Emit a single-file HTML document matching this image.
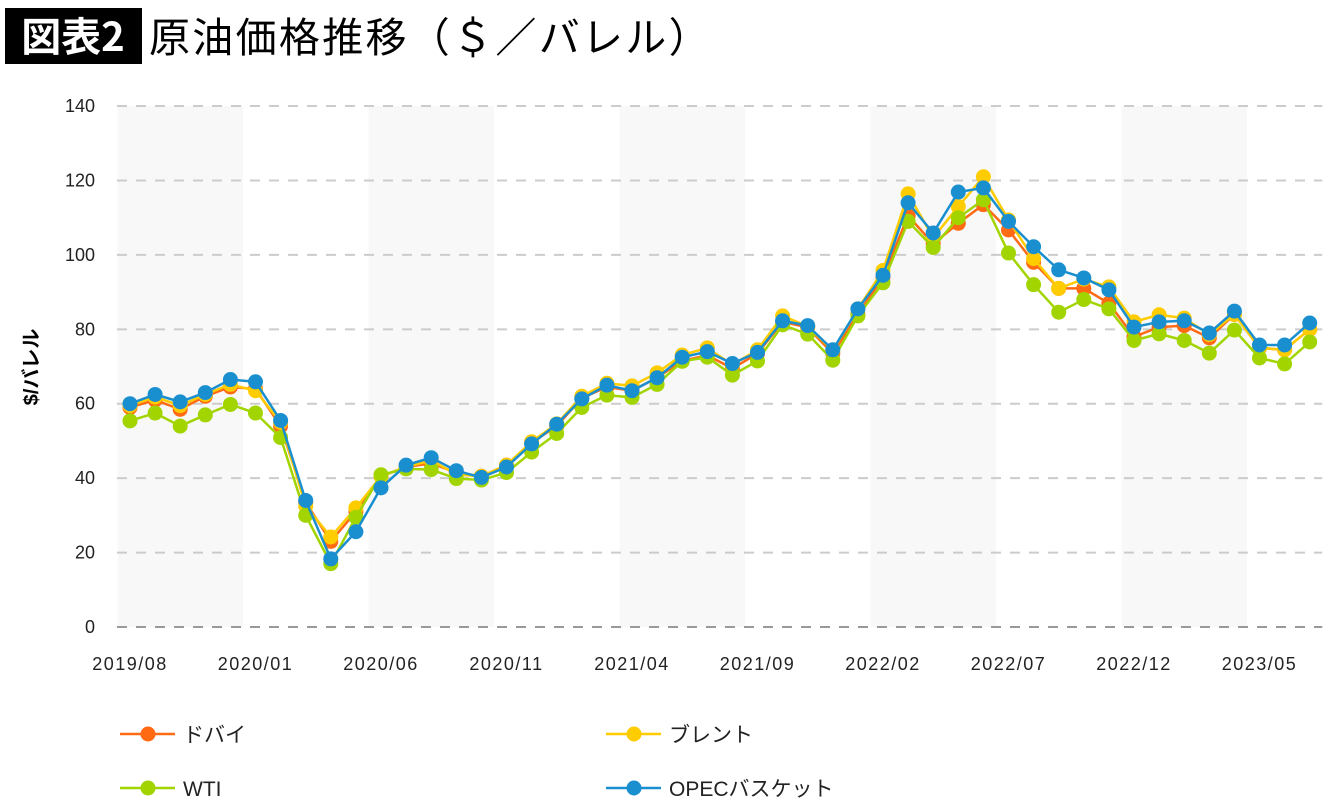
<!DOCTYPE html>
<html><head><meta charset="utf-8">
<style>
body{margin:0;background:#fff;width:1340px;height:810px;overflow:hidden;font-family:"Liberation Sans","Noto Sans CJK JP",sans-serif;}
svg{position:absolute;left:0;top:0}
</style></head>
<body>
<svg id="chart" width="1340" height="810">
  <rect x="5" y="8" width="137" height="56" fill="#000"/>
  <text x="73" y="51" text-anchor="middle" fill="#fff" font-size="40" font-weight="bold" font-family="'Noto Sans CJK JP',sans-serif">図表2</text>
  <text x="149" y="52" fill="#000" font-size="41" letter-spacing="2.3" font-family="'Noto Sans CJK JP',sans-serif">原油価格推移（＄／バレル）</text>
  <g id="bands"></g><g id="grid"></g><g id="series"></g><g id="axes"></g>
  <text transform="translate(38,367) rotate(-90)" text-anchor="middle" font-size="20" font-weight="bold" font-family="'Liberation Sans','Noto Sans CJK JP',sans-serif">$/バレル</text>
  <g id="legend"></g>
</svg>
<script>
const months = ["2019/08","2019/09","2019/10","2019/11","2019/12","2020/01","2020/02","2020/03","2020/04","2020/05","2020/06","2020/07","2020/08","2020/09","2020/10","2020/11","2020/12","2021/01","2021/02","2021/03","2021/04","2021/05","2021/06","2021/07","2021/08","2021/09","2021/10","2021/11","2021/12","2022/01","2022/02","2022/03","2022/04","2022/05","2022/06","2022/07","2022/08","2022/09","2022/10","2022/11","2022/12","2023/01","2023/02","2023/03","2023/04","2023/05","2023/06","2023/07"];
const dubai = [59.0,61.0,58.5,62.0,64.5,64.0,54.0,33.5,23.0,31.0,40.5,43.0,44.0,41.5,40.5,43.5,49.5,54.0,61.5,64.5,63.5,67.0,71.5,73.0,69.5,73.5,82.0,80.5,73.5,84.0,94.0,110.5,103.0,108.5,113.5,106.7,98.0,91.0,91.0,87.0,78.0,80.6,81.0,77.7,84.0,75.0,74.5,80.0];
const brent = [59.5,61.8,59.5,62.5,65.2,63.5,55.0,32.5,24.2,32.0,40.5,43.0,44.8,41.0,40.5,43.5,49.8,54.6,62.0,65.5,64.8,68.3,73.1,75.0,70.5,74.5,83.6,80.8,74.3,85.5,95.8,116.4,104.6,113.0,121.0,109.4,99.0,91.0,93.5,91.4,82.0,83.9,83.0,78.6,84.0,75.0,74.5,80.0];
const wti = [55.4,57.5,54.0,57.0,59.8,57.5,50.9,30.0,17.0,29.5,40.9,42.5,42.3,39.9,39.5,41.5,47.0,52.0,59.0,62.3,61.7,65.2,71.4,72.5,67.7,71.5,81.2,78.7,71.7,83.6,92.5,109.0,102.0,110.0,114.8,100.5,92.0,84.6,88.0,85.5,77.0,78.8,77.0,73.6,79.8,72.3,70.7,76.6];
const opec = [60.0,62.5,60.5,63.0,66.5,65.9,55.5,34.0,18.3,25.6,37.4,43.5,45.5,42.0,40.2,43.0,49.2,54.5,61.3,65.0,63.5,67.0,72.5,74.0,70.8,73.8,82.3,81.0,74.5,85.5,94.5,114.0,105.9,116.9,118.0,109.0,102.2,96.0,93.8,90.6,80.6,82.0,82.3,79.0,84.9,75.8,75.8,81.7];
const yTicks = [0,20,40,60,80,100,120,140];
const xLabelIdx = [0,5,10,15,20,25,30,35,40,45];
const seriesNames = ["ドバイ","ブレント","WTI","OPECバスケット"];
const seriesColors = ["#ff6a13","#ffcc00","#a2d500","#1a8fd0"];

const NS="http://www.w3.org/2000/svg";
const X0=130, DX=25.1, Y0=627, PX=3.721;
const xs=i=>X0+i*DX, ys=v=>Y0-v*PX;
function mk(tag,attrs,parent){const e=document.createElementNS(NS,tag);for(const k in attrs)e.setAttribute(k,attrs[k]);parent.appendChild(e);return e;}
const bands=document.getElementById('bands'),grid=document.getElementById('grid'),ser=document.getElementById('series'),axes=document.getElementById('axes'),leg=document.getElementById('legend');
for(let b=0;b<months.length;b+=10){
  const r=mk('rect',{x:xs(b)-DX/2,y:ys(140),width:Math.min(5,months.length-b)*DX,height:ys(0)-ys(140),fill:'#f8f8f8'},bands);
  
  
}
const right=xs(months.length-1)+DX/2;
yTicks.forEach(t=>{
  const l=mk('line',{x1:117,x2:right,y1:ys(t),y2:ys(t),stroke:t===0?'#999':'#ccc','stroke-width':2,'stroke-dasharray':'10,9'},grid);
  
  
  const tx=mk('text',{x:95,y:ys(t)+6,'text-anchor':'end','font-size':18,fill:'#222'},axes);
  tx.textContent=t;
  
  
});
xLabelIdx.forEach(i=>{
  const tx=mk('text',{x:xs(i),y:670,'text-anchor':'middle','font-size':18,'letter-spacing':'1.5',fill:'#222'},axes);
  tx.textContent=months[i];
  
  
});
[dubai,brent,wti,opec].forEach((d,s)=>{
  const g=mk('g',{},ser);
  
  
  const p=mk('polyline',{points:d.map((v,i)=>xs(i)+','+ys(v)).join(' '),fill:'none',stroke:seriesColors[s],'stroke-width':2.5},g);
  
  
  d.forEach((v,i)=>{
    const c=mk('circle',{cx:xs(i),cy:ys(v),r:7.5,fill:seriesColors[s]},g);
    
    
  });
});
const legPos=[[120,734],[606,734],[120,788],[606,788]];
seriesNames.forEach((n,s)=>{
  const [x,y]=legPos[s];
  const g=mk('g',{},leg);
  
  
  mk('line',{x1:x,x2:x+55,y1:y,y2:y,stroke:seriesColors[s],'stroke-width':2.5},g);
  mk('circle',{cx:x+28,cy:y,r:7.5,fill:seriesColors[s]},g);
  const t=mk('text',{x:x+63,y:y+8,'font-size':21,fill:'#222'},g);
  t.textContent=n;
});
</script>
</body></html>
